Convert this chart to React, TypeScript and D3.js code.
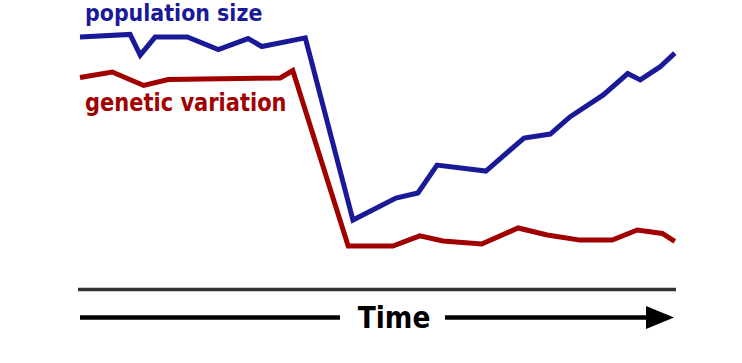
import React from "react";
import * as d3 from "d3";

// time positions (0-100) and values (0-100)
const popTime = [0, 8.4, 10.1, 12.6, 18.0, 23.2, 28.2, 30.5, 37.8, 45.8, 53.0, 56.7, 59.9, 68.1, 74.5, 78.9, 82.2, 87.8, 91.9, 94.0, 97.3, 99.8];
const popValue = [96.8, 98.0, 88.6, 96.8, 96.8, 91.1, 96.1, 92.5, 96.4, 13.6, 23.6, 25.9, 38.6, 35.9, 50.9, 52.7, 60.5, 70.5, 80.2, 77.3, 83.2, 89.5];

const genTime = [0, 5.4, 10.7, 14.8, 33.6, 35.7, 45.0, 52.5, 57.0, 60.9, 67.4, 73.5, 78.4, 83.9, 89.3, 93.5, 97.7, 99.8];
const genValue = [78.4, 80.9, 74.8, 77.5, 78.2, 81.6, 1.8, 1.8, 6.4, 4.1, 2.7, 10.0, 6.8, 4.5, 4.5, 9.1, 7.5, 3.9];

const seriesLabels = ["population size", "genetic variation"];
const axisLabel = "Time";

const BLUE = "#1a1a98";
const RED = "#a00000";

export default function App() {
  const W = 742, H = 363;
  const x = d3.scaleLinear().domain([0, 100]).range([80, 676]);
  const y = d3.scaleLinear().domain([0, 100]).range([250, 30]);
  const line = d3.line<[number, number]>().x(d => x(d[0])).y(d => y(d[1]));
  const pop = popTime.map((t, i) => [t, popValue[i]] as [number, number]);
  const gen = genTime.map((t, i) => [t, genValue[i]] as [number, number]);
  const font = "'DejaVu Sans', Verdana, sans-serif";
  return (
    <svg width={W} height={H} style={{ position: "absolute", left: 0, top: 0, background: "#fff" }}>
      <path d={line(pop) || ""} fill="none" stroke={BLUE} strokeWidth={5} />
      <path d={line(gen) || ""} fill="none" stroke={RED} strokeWidth={5} />
      <text transform="translate(85,21) scale(1,1.12)" fill={BLUE} fontFamily={font} fontWeight="bold" fontSize={20.6}>{seriesLabels[0]}</text>
      <text transform="translate(85,111) scale(1,1.15)" fill={RED} fontFamily={font} fontWeight="bold" fontSize={21}>{seriesLabels[1]}</text>
      <line x1={x(0) - 2} x2={x(100)} y1={289.5} y2={289.5} stroke="#333" strokeWidth={3.5} />
      <line x1={x(0)} x2={340} y1={317.5} y2={317.5} stroke="#000" strokeWidth={4.3} />
      <line x1={445} x2={650} y1={317.5} y2={317.5} stroke="#000" strokeWidth={4.3} />
      <path d={`M646,306 L674,317.5 L646,329 Z`} fill="#000" />
      <text transform="translate(394,328.3) scale(1,1.13)" textAnchor="middle" fontFamily={font} fontWeight="bold" fontSize={26.5}>{axisLabel}</text>
    </svg>
  );
}
